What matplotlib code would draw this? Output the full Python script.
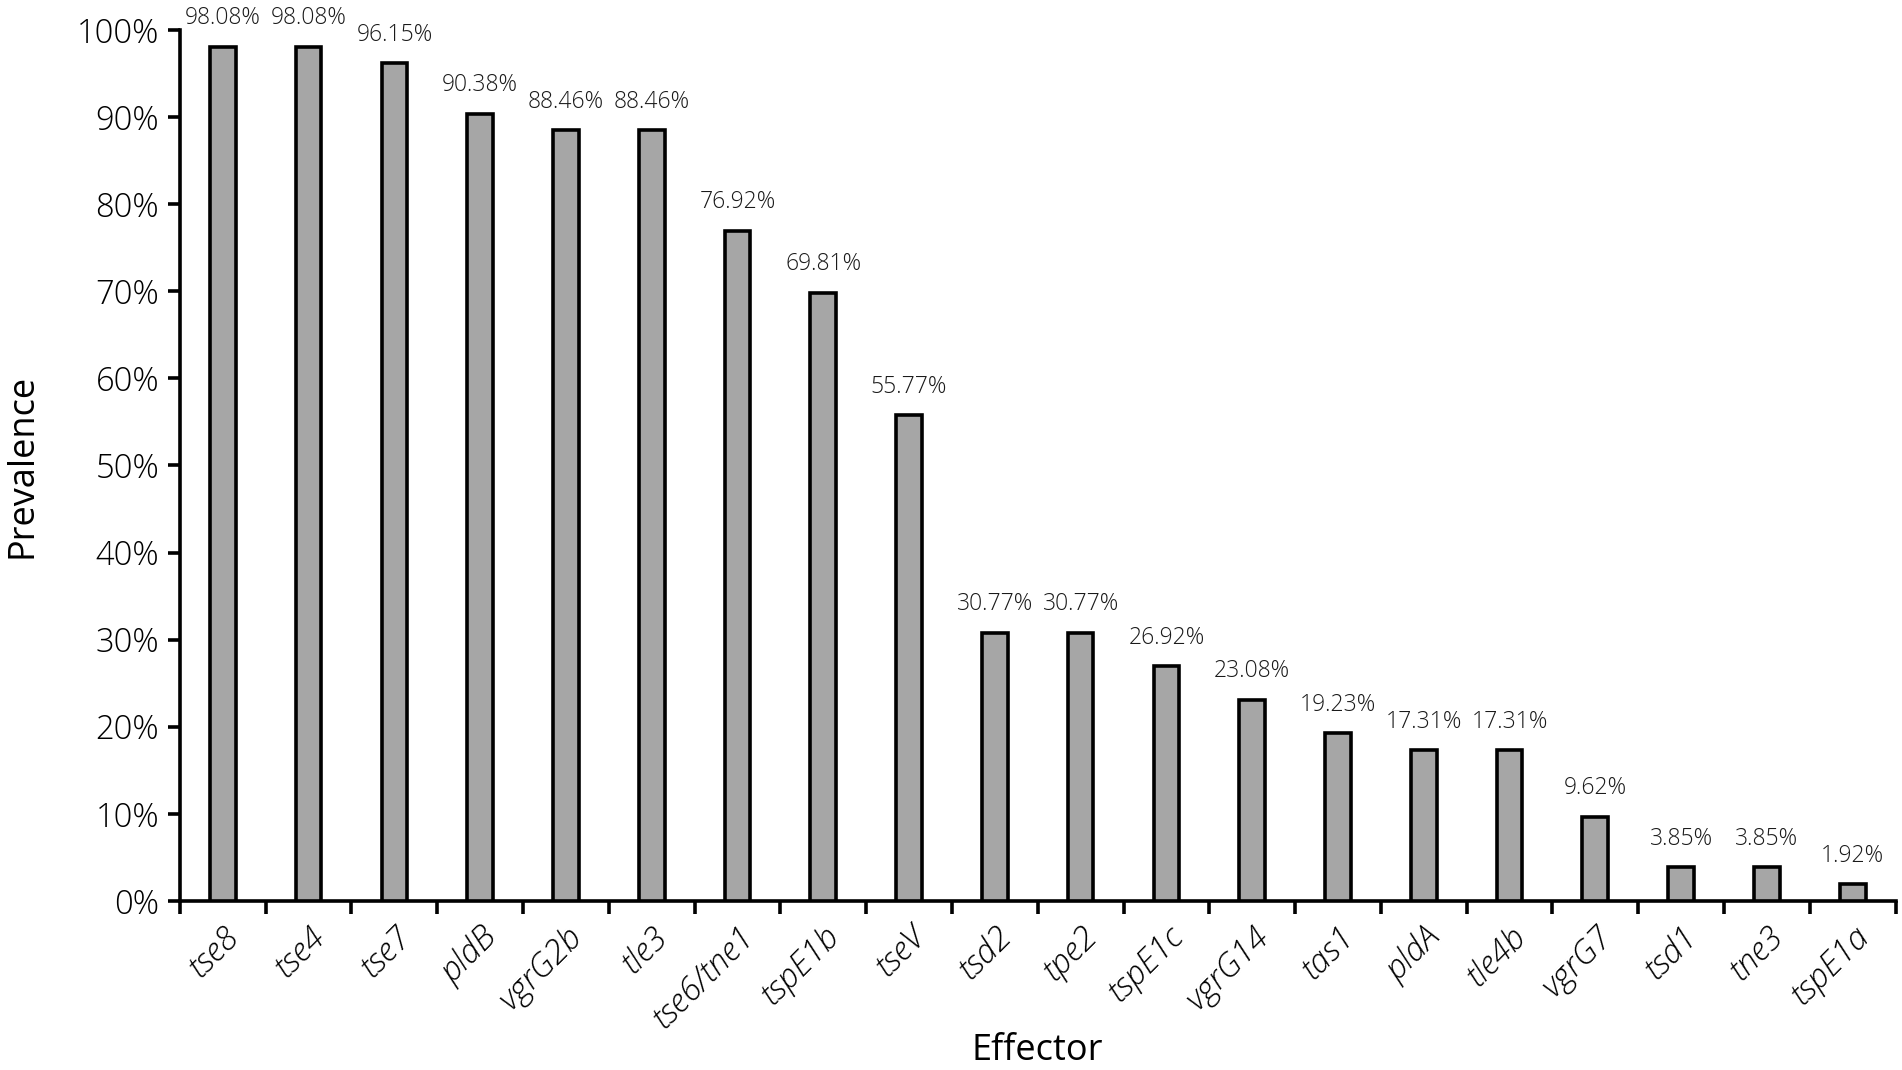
import matplotlib.pyplot as plt
import matplotlib.transforms as mtransforms
import numpy as np

# --- Data ---
effectors = ["tse8", "tse4", "tse7", "pldB", "vgrG2b", "tle3", "tse6/tne1",
             "tspE1b", "tseV", "tsd2", "tpe2", "tspE1c", "vgrG14", "tas1",
             "pldA", "tle4b", "vgrG7", "tsd1", "tne3", "tspE1a"]
prevalence = [98.08, 98.08, 96.15, 90.38, 88.46, 88.46, 76.92, 69.81, 55.77,
              30.77, 30.77, 26.92, 23.08, 19.23, 17.31, 17.31, 9.62, 3.85,
              3.85, 1.92]
y_ticks = list(range(0, 101, 10))

plt.rcParams['font.family'] = ['Open Sans', 'DejaVu Sans']
plt.rcParams['font.weight'] = 'light'

fig = plt.figure(figsize=(19.02, 10.70), dpi=100)
ax = fig.add_axes([0.0946, 0.158, 0.902, 0.814])

x = np.arange(len(effectors))
ax.bar(x, prevalence, width=0.3, color='#a6a6a6', edgecolor='black',
       linewidth=2.6, zorder=3)

for xi, v in zip(x, prevalence):
    ax.annotate(f"{v:.2f}%", xy=(xi, v), xytext=(0, 12), textcoords='offset points',
                ha='center', va='bottom', fontsize=16.5, color='#1a1a1a',
                annotation_clip=False)

ax.set_xlim(-0.5, len(effectors) - 0.5)
ax.set_ylim(0, 100)
ax.set_yticks(y_ticks)
ax.set_yticklabels([f"{t}%" for t in y_ticks], fontsize=23.5, color='black')

# ticks between categories, labels at the bar centres
ax.set_xticks(np.arange(-0.5, len(effectors), 1.0))
ax.set_xticklabels([])
ax.set_xticks(x, minor=True)
ax.set_xticklabels(effectors, minor=True, rotation=45, ha='right',
                   rotation_mode='anchor', fontsize=24, style='italic')
shift = mtransforms.ScaledTranslation(11 / 100, 0, fig.dpi_scale_trans)
for lbl in ax.get_xticklabels(minor=True):
    lbl.set_transform(lbl.get_transform() + shift)
ax.tick_params(axis='x', which='minor', length=0, pad=14)
ax.tick_params(axis='x', which='major', length=9, width=2.6, direction='out')
ax.tick_params(axis='y', length=9, width=2.6, direction='out', pad=6)

for side in ['top', 'right']:
    ax.spines[side].set_visible(False)
for side in ['left', 'bottom']:
    ax.spines[side].set_linewidth(2.6)

ax.set_ylabel("Prevalence", fontsize=26, labelpad=26)
ax.set_xlabel("Effector", fontsize=26)
ax.xaxis.set_label_coords(0.5, -0.152)

fig.savefig("out.png", dpi=100)
